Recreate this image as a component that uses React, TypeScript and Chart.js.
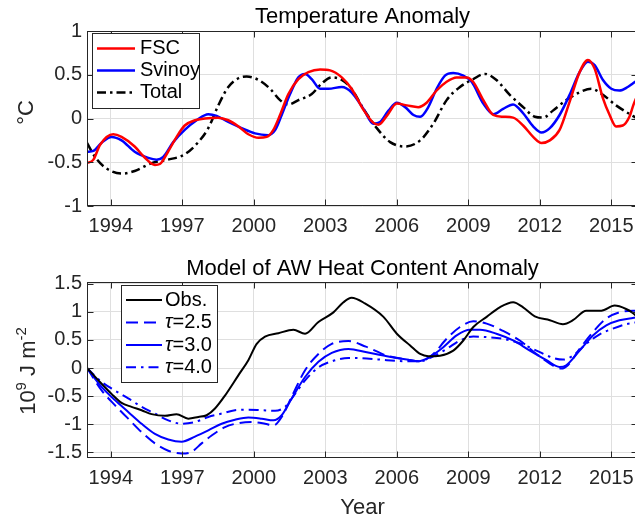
import React, { useEffect, useRef } from "react";
import { Chart, registerables } from "chart.js";

Chart.register(...registerables);

const FONT = '"Liberation Sans", Arial, Helvetica, sans-serif';
const AXIS_COLOR = "#262626";
const GRID_COLOR = "#dfdfdf";

// ---------- axes ----------
const X_MIN = 1993;
const X_MAX = 2016.12;
const X_TICKS = [1994, 1997, 2000, 2003, 2006, 2009, 2012, 2015];
const TOP_Y_MIN = -1;
const TOP_Y_MAX = 1;
const TOP_Y_TICKS = [-1, -0.5, 0, 0.5, 1];
const BOT_Y_MIN = -1.6;
const BOT_Y_MAX = 1.53;
const BOT_Y_TICKS = [-1.5, -1, -0.5, 0, 0.5, 1, 1.5];

// ---------- top panel: temperature anomaly (°C) ----------
const fscYears = [1993.0, 1993.27, 1993.55, 1994.1, 1994.45, 1995.0, 1995.4, 1995.85, 1996.06, 1996.4, 1996.76, 1997.1, 1997.53, 1997.95, 1998.5, 1998.93, 1999.35, 1999.77, 2000.2, 2000.54, 2000.82, 2001.1, 2001.45, 2001.87, 2002.29, 2002.78, 2003.2, 2003.69, 2004.1, 2004.6, 2005.02, 2005.23, 2005.58, 2006.0, 2006.42, 2006.9, 2007.25, 2007.67, 2008.09, 2008.51, 2008.93, 2009.2, 2009.63, 2010.05, 2010.46, 2010.88, 2011.3, 2011.72, 2012.07, 2012.42, 2012.83, 2013.25, 2013.67, 2014.02, 2014.3, 2014.65, 2014.93, 2015.2, 2015.48, 2015.76, 2015.92, 2016.1];
const fscValues = [-0.51, -0.47, -0.3, -0.18, -0.21, -0.32, -0.44, -0.53, -0.52, -0.38, -0.21, -0.08, -0.02, 0.0, 0.01, -0.02, -0.09, -0.18, -0.22, -0.21, -0.13, 0.04, 0.28, 0.45, 0.53, 0.56, 0.55, 0.47, 0.34, 0.1, -0.05, -0.07, 0.03, 0.17, 0.15, 0.13, 0.18, 0.32, 0.42, 0.47, 0.47, 0.42, 0.21, 0.04, 0.02, 0.01, -0.08, -0.21, -0.28, -0.25, -0.13, 0.19, 0.53, 0.67, 0.57, 0.23, 0.04, -0.09, -0.08, 0.02, 0.15, 0.27];

const svinoyYears = [1993.0, 1993.27, 1993.6, 1994.03, 1994.45, 1995.0, 1995.57, 1995.92, 1996.2, 1996.62, 1997.1, 1997.6, 1998.09, 1998.44, 1998.93, 1999.49, 2000.05, 2000.6, 2000.9, 2001.17, 2001.52, 2001.87, 2002.15, 2002.43, 2002.78, 2003.13, 2003.69, 2004.1, 2004.6, 2005.02, 2005.3, 2005.65, 2006.0, 2006.35, 2006.7, 2006.98, 2007.32, 2007.67, 2008.02, 2008.37, 2008.79, 2009.14, 2009.63, 2010.05, 2010.46, 2010.88, 2011.3, 2011.72, 2012.07, 2012.42, 2012.83, 2013.25, 2013.67, 2014.02, 2014.3, 2014.65, 2015.0, 2015.34, 2015.69, 2015.9, 2016.1];
const svinoyValues = [-0.38, -0.37, -0.28, -0.21, -0.25, -0.38, -0.45, -0.47, -0.44, -0.27, -0.13, -0.02, 0.05, 0.03, -0.04, -0.11, -0.17, -0.19, -0.13, 0.04, 0.28, 0.47, 0.51, 0.45, 0.34, 0.34, 0.36, 0.3, 0.11, -0.06, -0.04, 0.09, 0.18, 0.13, 0.04, 0.02, 0.13, 0.34, 0.49, 0.52, 0.49, 0.42, 0.17, 0.05, 0.11, 0.16, 0.06, -0.09, -0.16, -0.11, 0.04, 0.27, 0.53, 0.65, 0.61, 0.44, 0.34, 0.32, 0.36, 0.4, 0.44];

const totalYears = [1993.0, 1993.34, 1993.76, 1994.45, 1995.0, 1995.71, 1996.4, 1997.1, 1997.67, 1998.09, 1998.51, 1998.93, 1999.35, 1999.7, 2000.2, 2000.68, 2001.1, 2001.45, 2001.87, 2002.43, 2002.85, 2003.27, 2003.69, 2004.1, 2004.6, 2005.16, 2005.72, 2006.35, 2006.98, 2007.53, 2008.09, 2008.65, 2009.21, 2009.7, 2010.18, 2010.74, 2011.3, 2011.79, 2012.14, 2012.55, 2013.11, 2013.67, 2014.16, 2014.65, 2015.2, 2015.9, 2016.1];
const totalValues = [-0.28, -0.44, -0.56, -0.63, -0.6, -0.51, -0.47, -0.41, -0.27, -0.11, 0.15, 0.36, 0.46, 0.48, 0.44, 0.34, 0.21, 0.16, 0.21, 0.28, 0.4, 0.47, 0.44, 0.34, 0.11, -0.11, -0.27, -0.32, -0.25, -0.06, 0.21, 0.36, 0.45, 0.51, 0.44, 0.27, 0.13, 0.02, 0.01, 0.09, 0.21, 0.3, 0.34, 0.27, 0.15, 0.03, 0.0];

// ---------- bottom panel: heat content anomaly (10^9 J m^-2) ----------
const obsYears = [1993.0, 1993.48, 1994.03, 1994.45, 1994.87, 1995.29, 1995.71, 1996.27, 1996.76, 1997.25, 1997.67, 1998.02, 1998.37, 1998.79, 1999.35, 1999.77, 2000.12, 2000.47, 2001.03, 2001.66, 2002.15, 2002.71, 2003.34, 2003.76, 2004.1, 2004.66, 2005.44, 2006.0, 2006.56, 2006.98, 2007.32, 2007.81, 2008.37, 2008.79, 2009.21, 2009.77, 2010.32, 2010.88, 2011.3, 2011.79, 2012.42, 2012.97, 2013.39, 2013.95, 2014.58, 2015.14, 2015.62, 2015.9, 2016.1];
const obsValues = [0, -0.22, -0.46, -0.62, -0.69, -0.75, -0.82, -0.85, -0.82, -0.9, -0.87, -0.84, -0.72, -0.49, -0.13, 0.14, 0.43, 0.56, 0.62, 0.68, 0.61, 0.82, 0.99, 1.17, 1.25, 1.15, 0.91, 0.61, 0.4, 0.25, 0.21, 0.22, 0.31, 0.49, 0.73, 0.91, 1.08, 1.17, 1.08, 0.92, 0.85, 0.78, 0.85, 1.02, 1.02, 1.11, 1.05, 0.98, 0.9];

const tau25Years = [1993.0, 1993.62, 1994.17, 1994.73, 1995.29, 1995.85, 1996.41, 1996.97, 1997.39, 1997.81, 1998.23, 1998.79, 1999.35, 1999.9, 2000.47, 2000.82, 2001.17, 2001.59, 2002.15, 2002.71, 2003.27, 2003.97, 2004.7, 2005.58, 2006.42, 2006.98, 2007.53, 2008.09, 2008.65, 2009.21, 2009.77, 2010.46, 2011.16, 2011.86, 2012.42, 2012.9, 2013.18, 2013.67, 2014.23, 2014.79, 2015.34, 2015.9, 2016.1];
const tau25Values = [0, -0.4, -0.66, -0.9, -1.14, -1.34, -1.47, -1.52, -1.49, -1.34, -1.2, -1.05, -0.98, -0.96, -0.99, -1.02, -0.87, -0.51, -0.04, 0.25, 0.43, 0.48, 0.38, 0.22, 0.15, 0.12, 0.25, 0.52, 0.73, 0.83, 0.79, 0.66, 0.49, 0.25, 0.08, -0.01, 0.05, 0.34, 0.64, 0.88, 0.99, 1.02, 1.02];

const tau30Years = [1993.0, 1993.62, 1994.17, 1994.73, 1995.29, 1995.85, 1996.41, 1996.97, 1997.53, 1998.09, 1998.65, 1999.21, 1999.77, 2000.33, 2000.82, 2001.17, 2001.59, 2002.15, 2002.71, 2003.27, 2003.97, 2004.74, 2005.58, 2006.42, 2006.91, 2007.39, 2007.95, 2008.51, 2009.07, 2009.49, 2010.18, 2010.88, 2011.58, 2012.28, 2012.83, 2013.11, 2013.67, 2014.23, 2014.79, 2015.34, 2015.9, 2016.1];
const tau30Values = [0, -0.34, -0.57, -0.78, -0.99, -1.17, -1.27, -1.31, -1.22, -1.11, -0.99, -0.92, -0.88, -0.9, -0.93, -0.84, -0.54, -0.16, 0.11, 0.27, 0.34, 0.28, 0.21, 0.15, 0.12, 0.2, 0.37, 0.58, 0.68, 0.68, 0.61, 0.49, 0.31, 0.14, 0.02, 0.05, 0.31, 0.58, 0.76, 0.85, 0.89, 0.9];

const tau40Years = [1993.0, 1993.62, 1994.17, 1994.73, 1995.29, 1995.85, 1996.41, 1996.97, 1997.53, 1998.09, 1998.65, 1999.21, 1999.77, 2000.33, 2000.89, 2001.31, 2001.73, 2002.15, 2002.71, 2003.27, 2003.97, 2004.74, 2005.58, 2006.42, 2006.98, 2007.53, 2008.09, 2008.65, 2009.21, 2009.77, 2010.46, 2011.16, 2011.86, 2012.56, 2012.97, 2013.39, 2013.95, 2014.51, 2015.06, 2015.62, 2015.9, 2016.1];
const tau40Values = [0, -0.25, -0.4, -0.54, -0.69, -0.81, -0.93, -0.99, -0.96, -0.87, -0.81, -0.75, -0.74, -0.75, -0.76, -0.69, -0.46, -0.22, 0.01, 0.12, 0.18, 0.17, 0.14, 0.12, 0.12, 0.21, 0.34, 0.49, 0.56, 0.55, 0.52, 0.44, 0.31, 0.18, 0.15, 0.22, 0.43, 0.6, 0.7, 0.78, 0.8, 0.82];

// ---------- labels ----------
const TOP_TITLE = "Temperature Anomaly";
const BOT_TITLE = "Model of AW Heat Content Anomaly";
const X_LABEL = "Year";

type Piece = { text: string; sup?: boolean; italic?: boolean };

const pts = (xs: number[], ys: number[]) => xs.map((x, i) => ({ x, y: ys[i] }));

function drawPieces(ctx: CanvasRenderingContext2D, pieces: Piece[], x: number, y: number, size: number, center: boolean) {
  const supSize = Math.round(size * 0.7);
  const fontFor = (p: Piece) => `${p.italic ? "italic " : ""}${p.sup ? supSize : size}px ${FONT}`;
  const widths = pieces.map((p) => {
    ctx.font = fontFor(p);
    return ctx.measureText(p.text).width;
  });
  const total = widths.reduce((a, b) => a + b, 0);
  let cx = center ? x - total / 2 : x;
  ctx.textAlign = "left";
  pieces.forEach((p, i) => {
    ctx.font = fontFor(p);
    ctx.fillText(p.text, cx, p.sup ? y - size * 0.42 : y);
    cx += widths[i];
  });
}

type LegendItem = { pieces: Piece[]; color: string; dash: number[]; width: number };
type Decor = {
  title: string;
  titleY: number;
  yLabel: Piece[];
  yLabelX: number;
  yLabelCY: number;
  xLabel?: string;
  xLabelY?: number;
  legendBox: [number, number, number, number];
  legendRows: number[];
  sampleX: [number, number];
  textX: number;
  legend: LegendItem[];
};

function decorPlugin(d: Decor) {
  return {
    id: "decor",
    afterDatasetsDraw(chart: any) {
      const { ctx, chartArea: a, scales } = chart;
      ctx.save();
      // frame
      const l = Math.round(a.left) + 0.5;
      const r = Math.round(a.right) - 0.5;
      const t = Math.round(a.top) + 0.5;
      const b = Math.round(a.bottom) - 0.5;
      ctx.strokeStyle = AXIS_COLOR;
      ctx.lineWidth = 1;
      ctx.setLineDash([]);
      ctx.strokeRect(l, t, r - l, b - t);
      // inward ticks
      const tl = 6;
      ctx.beginPath();
      scales.x.ticks.forEach((tk: any) => {
        const px = Math.round(scales.x.getPixelForValue(tk.value)) + 0.5;
        ctx.moveTo(px, b);
        ctx.lineTo(px, b - tl);
        ctx.moveTo(px, t);
        ctx.lineTo(px, t + tl);
      });
      scales.y.ticks.forEach((tk: any) => {
        const py = Math.round(scales.y.getPixelForValue(tk.value)) + 0.5;
        ctx.moveTo(l, py);
        ctx.lineTo(l + tl, py);
        ctx.moveTo(r, py);
        ctx.lineTo(r - tl, py);
      });
      ctx.stroke();

      // legend
      const [bx0, by0, bx1, by1] = d.legendBox;
      ctx.fillStyle = "#ffffff";
      ctx.fillRect(bx0, by0, bx1 - bx0, by1 - by0);
      ctx.strokeStyle = AXIS_COLOR;
      ctx.lineWidth = 1;
      ctx.strokeRect(bx0 + 0.5, by0 + 0.5, bx1 - bx0, by1 - by0);
      d.legend.forEach((it, i) => {
        const y = d.legendRows[i];
        ctx.save();
        ctx.strokeStyle = it.color;
        ctx.lineWidth = it.width;
        ctx.setLineDash(it.dash);
        ctx.beginPath();
        ctx.moveTo(d.sampleX[0], y);
        ctx.lineTo(d.sampleX[1], y);
        ctx.stroke();
        ctx.restore();
        ctx.fillStyle = "#000000";
        ctx.textBaseline = "middle";
        drawPieces(ctx, it.pieces, d.textX, y, 20, false);
      });

      // title
      ctx.fillStyle = "#000000";
      ctx.textBaseline = "alphabetic";
      ctx.textAlign = "center";
      ctx.font = `22px ${FONT}`;
      ctx.fillText(d.title, (a.left + a.right) / 2, d.titleY);
      if (d.xLabel) {
        ctx.fillStyle = AXIS_COLOR;
        ctx.fillText(d.xLabel, (a.left + a.right) / 2, d.xLabelY);
      }
      // y label (rotated)
      ctx.save();
      ctx.fillStyle = AXIS_COLOR;
      ctx.translate(d.yLabelX, d.yLabelCY);
      ctx.rotate(-Math.PI / 2);
      ctx.textBaseline = "alphabetic";
      drawPieces(ctx, d.yLabel, 0, 0, 22, true);
      ctx.restore();
      ctx.restore();
    },
  };
}

function makeScales(yMin: number, yMax: number, yTicks: number[], xAxisHeight: number) {
  const tickFont = { size: 20, family: FONT };
  return {
    x: {
      type: "linear" as const,
      min: X_MIN,
      max: X_MAX,
      afterBuildTicks: (s: any) => {
        s.ticks = X_TICKS.map((v) => ({ value: v }));
      },
      afterFit: (s: any) => {
        s.height = xAxisHeight;
      },
      grid: { color: GRID_COLOR, lineWidth: 1, drawTicks: false },
      border: { display: false },
      ticks: {
        autoSkip: false,
        maxRotation: 0,
        minRotation: 0,
        padding: 8,
        color: AXIS_COLOR,
        font: tickFont,
        callback: (v: any) => String(v),
      },
    },
    y: {
      type: "linear" as const,
      min: yMin,
      max: yMax,
      afterBuildTicks: (s: any) => {
        s.ticks = yTicks.map((v) => ({ value: v }));
      },
      afterFit: (s: any) => {
        s.width = 87;
      },
      grid: { color: GRID_COLOR, lineWidth: 1, drawTicks: false },
      border: { display: false },
      ticks: {
        autoSkip: false,
        padding: 5,
        color: AXIS_COLOR,
        font: tickFont,
        callback: (v: any) => String(v),
      },
    },
  };
}

const lineDs = (label: string, data: any[], color: string, width: number, dash: number[]) => ({
  label,
  data,
  borderColor: color,
  backgroundColor: color,
  borderWidth: width,
  borderDash: dash,
  pointRadius: 0,
  fill: false,
  cubicInterpolationMode: "monotone" as const,
  tension: 0.4,
});

const TOTAL_DASH = [9, 4, 2.5, 4];
const T25_DASH = [12, 6];
const T40_DASH = [10, 5, 2.5, 5];

export default function App() {
  const topRef = useRef<HTMLCanvasElement>(null);
  const botRef = useRef<HTMLCanvasElement>(null);

  useEffect(() => {
    const common = {
      responsive: false,
      animation: false as const,
      events: [] as any[],
      plugins: { legend: { display: false }, tooltip: { enabled: false }, title: { display: false } },
    };

    const top = new Chart(topRef.current!, {
      type: "line",
      data: {
        datasets: [
          lineDs("FSC", pts(fscYears, fscValues), "#ff0000", 2.5, []),
          lineDs("Svinoy", pts(svinoyYears, svinoyValues), "#0000ff", 2.5, []),
          lineDs("Total", pts(totalYears, totalValues), "#000000", 2.5, TOTAL_DASH),
        ],
      },
      options: {
        ...common,
        layout: { padding: { top: 31, right: 7, left: 0, bottom: 0 } },
        scales: makeScales(TOP_Y_MIN, TOP_Y_MAX, TOP_Y_TICKS, 44) as any,
      },
      plugins: [
        decorPlugin({
          title: TOP_TITLE,
          titleY: 23,
          yLabel: [{ text: "°C" }],
          yLabelX: 33,
          yLabelCY: 112.5,
          legendBox: [92, 33, 199, 108],
          legendRows: [48.5, 70.5, 92.5],
          sampleX: [97, 135],
          textX: 140,
          legend: [
            { pieces: [{ text: "FSC" }], color: "#ff0000", dash: [], width: 2.5 },
            { pieces: [{ text: "Svinoy" }], color: "#0000ff", dash: [], width: 2.5 },
            { pieces: [{ text: "Total" }], color: "#000000", dash: TOTAL_DASH, width: 2.5 },
          ],
        }),
      ],
    } as any);

    const bot = new Chart(botRef.current!, {
      type: "line",
      data: {
        datasets: [
          lineDs("Obs.", pts(obsYears, obsValues), "#000000", 2, []),
          lineDs("τ=2.5", pts(tau25Years, tau25Values), "#0000ff", 2, T25_DASH),
          lineDs("τ=3.0", pts(tau30Years, tau30Values), "#0000ff", 2, []),
          lineDs("τ=4.0", pts(tau40Years, tau40Values), "#0000ff", 2, T40_DASH),
        ],
      },
      options: {
        ...common,
        layout: { padding: { top: 32, right: 7, left: 0, bottom: 0 } },
        scales: makeScales(BOT_Y_MIN, BOT_Y_MAX, BOT_Y_TICKS, 61) as any,
      },
      plugins: [
        decorPlugin({
          title: BOT_TITLE,
          titleY: 25,
          yLabel: [{ text: "10" }, { text: "9", sup: true }, { text: " J m" }, { text: "-2", sup: true }],
          yLabelX: 35,
          yLabelCY: 121,
          xLabel: X_LABEL,
          xLabelY: 264,
          legendBox: [121, 35, 217, 132],
          legendRows: [50, 72.5, 95, 117.3],
          sampleX: [126, 162],
          textX: 165,
          legend: [
            { pieces: [{ text: "Obs." }], color: "#000000", dash: [], width: 2 },
            { pieces: [{ text: "τ", italic: true }, { text: "=2.5" }], color: "#0000ff", dash: T25_DASH, width: 2 },
            { pieces: [{ text: "τ", italic: true }, { text: "=3.0" }], color: "#0000ff", dash: [], width: 2 },
            { pieces: [{ text: "τ", italic: true }, { text: "=4.0" }], color: "#0000ff", dash: T40_DASH, width: 2 },
          ],
        }),
      ],
    } as any);

    return () => {
      top.destroy();
      bot.destroy();
    };
  }, []);

  return (
    <div
      style={{
        position: "fixed",
        left: 0,
        top: 0,
        width: 635,
        height: 519,
        overflow: "hidden",
        background: "#ffffff",
      }}
    >
      <canvas
        ref={topRef}
        width={645}
        height={250}
        style={{ position: "absolute", left: 0, top: 0, width: 645, height: 250, display: "block" }}
      />
      <canvas
        ref={botRef}
        width={645}
        height={269}
        style={{ position: "absolute", left: 0, top: 250, width: 645, height: 269, display: "block" }}
      />
    </div>
  );
}
